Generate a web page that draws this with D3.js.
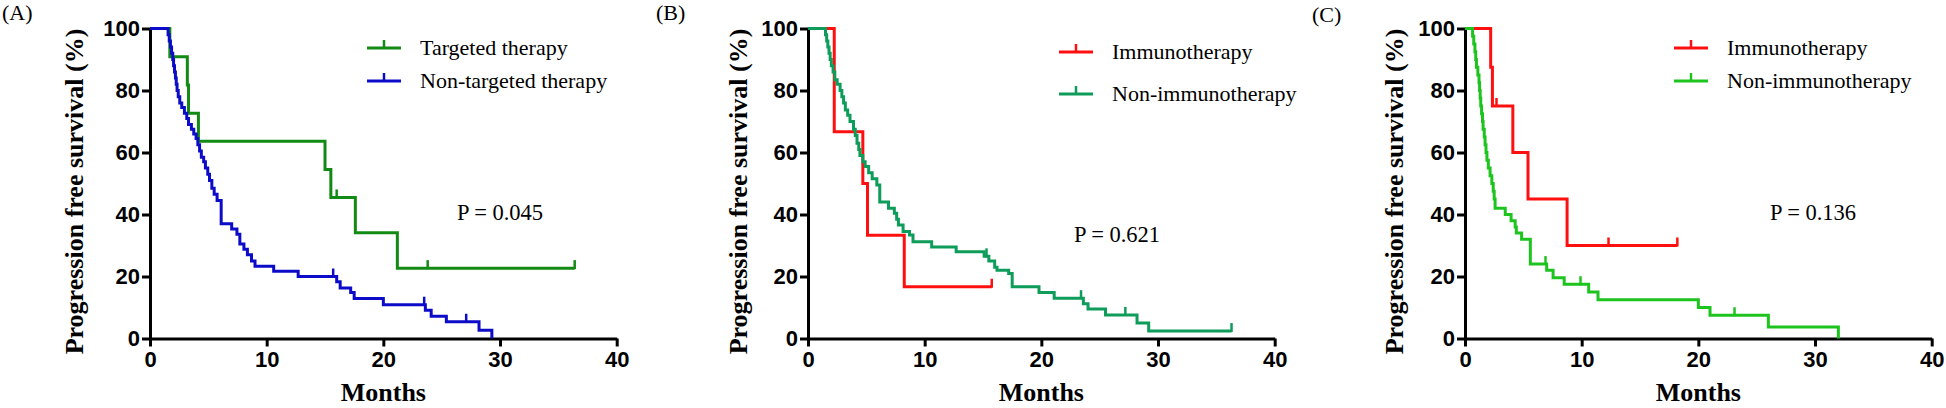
<!DOCTYPE html>
<html><head><meta charset="utf-8">
<script src="https://cdn.jsdelivr.net/npm/d3@7"></script>
<style>body{margin:0;background:#fff}svg{display:block}</style>
</head><body>
<svg id="chart" width="1946" height="408"></svg>
<script>
// ---------- DATA ----------
const xTicks = [0, 10, 20, 30, 40];
const yTicks = [0, 20, 40, 60, 80, 100];

// Panel A
const targetedT = [0, 1.7, 3.2, 3.3, 4.15, 15.0, 15.5, 17.6, 21.2];
const targetedS = [100, 90.9, 81.8, 72.7, 63.6, 54.5, 45.5, 34.1, 22.7];
const targetedEnd = 36.4;
const targetedCensor = [16.0, 23.8, 36.4];

const nonTargetedT = [0,1.55,1.65,1.75,1.85,1.95,2.02,2.1,2.18,2.25,2.32,2.42,2.55,2.72,2.95,3.15,3.3,3.55,3.75,3.95,4.1,4.25,4.4,4.6,4.75,4.95,5.1,5.3,5.5,5.75,6.1,7.0,7.45,7.7,8.05,8.35,8.7,9.0,10.6,12.7,16.0,16.3,17.2,17.5,20.0,23.6,24.1,25.4,28.2,29.3];
const nonTargetedS = [100,98,96,94,92,90,88,86,84,82,80,78,76,74.5,72.7,71,69,67.5,66,64.5,62.5,60.5,58.5,57,55,53,51,48.5,46.5,44.5,37,35.3,33.6,30.5,28.8,27,25,23.3,21.7,20,18.3,16.3,14.8,12.9,10.9,9.1,7.2,5.4,2.7,0];
const nonTargetedEnd = 29.3;
const nonTargetedCensor = [15.7, 23.5, 27.1];

// Panel B
const immBT = [0, 2.25, 4.7, 5.1, 8.25];
const immBS = [100, 66.7, 50, 33.3, 16.7];
const immBEnd = 15.75;
const immBCensor = [15.75];

const nonImmBT = [0,1.5,1.6,1.7,1.8,1.9,2.0,2.15,2.3,2.5,2.75,2.9,3.05,3.2,3.4,3.6,3.9,4.05,4.2,4.35,4.45,4.7,4.9,5.2,5.5,5.9,6.15,6.9,7.4,7.6,7.75,8.15,8.7,9.0,10.6,12.7,15.1,15.5,16.0,16.2,17.2,17.5,19.8,21.1,23.6,24.0,25.5,28.2,29.2];
const nonImmBS = [100,98,96,94,92,90,88,86,83.5,82,80,78,76,73.7,72,70,67.5,65.5,63,61,59,57,55.5,53.5,51.5,49.5,44,42,40.4,38.5,36.6,34.5,33.4,31.2,29.5,28,26.5,25,23,22,21,16.7,14.8,13,11.2,9.5,7.6,5,2.4];
const nonImmBEnd = 36.3;
const nonImmBCensor = [15.3, 23.4, 27.2, 36.3];

// Panel C
const immCT = [0, 2.2, 2.35, 4.1, 5.4, 8.75];
const immCS = [100, 87.5, 75, 60, 45, 30];
const immCEnd = 18.2;
const immCCensor = [2.7, 12.3, 18.2];

const nonImmCT = [0,0.65,0.75,0.85,0.92,0.98,1.1,1.2,1.25,1.3,1.35,1.42,1.5,1.55,1.65,1.72,1.8,1.88,2.0,2.15,2.3,2.42,2.5,2.58,3.45,3.95,4.3,4.4,4.85,5.6,7.0,7.55,8.5,10.6,11.4,20.0,21.0,26.0,32.0];
const nonImmCS = [100,97.5,95,92.5,90,87.5,85,82.5,80,77.5,75,72.5,70,67.5,65,62.5,60,57.5,55,52.5,50,47.5,45,42,40,38,36,34,32,24,22,19.6,17.5,15,12.5,10,7.5,3.75,0];
const nonImmCEnd = 32.0;
const nonImmCCensor = [6.9, 9.9, 23.1];

const panelLabels = ["(A)", "(B)", "(C)"];
const pValues = ["P = 0.045", "P = 0.621", "P = 0.136"];
const yTitle = "Progression free survival (%)";
const xTitle = "Months";

// ---------- LAYOUT / STYLE ----------
const SERIF = "'Liberation Serif','Times New Roman',serif";
const SANS = "'Liberation Sans',Arial,sans-serif";
const panels = [
  { x0: 150, label: panelLabels[0], labelX: 2, labelY: 20, ylabX: 74, p: pValues[0], pX: 500, pY: 220,
    legX: 367, legY: [48, 81],
    series: [
      { name: "Targeted therapy", t: targetedT, s: targetedS, end: targetedEnd, censor: targetedCensor, color: "#138a13" },
      { name: "Non-targeted therapy", t: nonTargetedT, s: nonTargetedS, end: nonTargetedEnd, censor: nonTargetedCensor, color: "#0c0cc8" }
    ] },
  { x0: 808, label: panelLabels[1], labelX: 656, labelY: 20, ylabX: 738, p: pValues[1], pX: 1117, pY: 242,
    legX: 1059, legY: [52, 94],
    series: [
      { name: "Immunotherapy", t: immBT, s: immBS, end: immBEnd, censor: immBCensor, color: "#ff1010" },
      { name: "Non-immunotherapy", t: nonImmBT, s: nonImmBS, end: nonImmBEnd, censor: nonImmBCensor, color: "#0e9c5a" }
    ] },
  { x0: 1465, label: panelLabels[2], labelX: 1312, labelY: 22, ylabX: 1394, p: pValues[2], pX: 1813, pY: 220,
    legX: 1674, legY: [48, 81],
    series: [
      { name: "Immunotherapy", t: immCT, s: immCS, end: immCEnd, censor: immCCensor, color: "#ff1010" },
      { name: "Non-immunotherapy", t: nonImmCT, s: nonImmCS, end: nonImmCEnd, censor: nonImmCCensor, color: "#1ec41e" }
    ] }
];

const svg = d3.select("#chart");
const PW = 466.7, YB = 338.5, YT = 28.5;

function stepValue(s, t) {
  const i = Math.max(0, d3.bisectRight(s.t, t) - 1);
  return s.s[i];
}

panels.forEach(p => {
  const x = d3.scaleLinear().domain([0, 40]).range([p.x0, p.x0 + PW]);
  const y = d3.scaleLinear().domain([0, 100]).range([YB, YT]);
  const g = svg.append("g");

  // axes
  const ax = g.append("g").attr("transform", `translate(0,${YB})`)
    .call(d3.axisBottom(x).tickValues(xTicks).tickSize(8).tickSizeOuter(0).tickPadding(5));
  const ay = g.append("g").attr("transform", `translate(${p.x0},0)`)
    .call(d3.axisLeft(y).tickValues(yTicks).tickSize(8).tickSizeOuter(0).tickPadding(2));
  [ax, ay].forEach(a => {
    a.select(".domain").attr("stroke", "#000").attr("stroke-width", 3);
    a.selectAll(".tick line").attr("stroke", "#000").attr("stroke-width", 3);
    a.selectAll(".tick text").attr("fill", "#000").style("font-family", SANS)
      .style("font-weight", "bold").style("font-size", "22px");
  });

  // curves
  p.series.forEach(s => {
    const pts = s.t.map((t, i) => [t, s.s[i]]);
    pts.push([s.end, s.s[s.s.length - 1]]);
    g.append("path")
      .attr("d", d3.line().x(d => x(d[0])).y(d => y(d[1])).curve(d3.curveStepAfter)(pts))
      .attr("fill", "none").attr("stroke", s.color).attr("stroke-width", 3)
      .attr("stroke-linejoin", "miter");
    s.censor.forEach(c => {
      const v = stepValue(s, c);
      g.append("line").attr("x1", x(c)).attr("x2", x(c))
        .attr("y1", y(v) + 1).attr("y2", y(v) - 8)
        .attr("stroke", s.color).attr("stroke-width", 2.5);
    });
  });

  // legend
  p.series.forEach((s, i) => {
    const ly = p.legY[i];
    g.append("line").attr("x1", p.legX).attr("x2", p.legX + 34).attr("y1", ly).attr("y2", ly)
      .attr("stroke", s.color).attr("stroke-width", 3);
    g.append("line").attr("x1", p.legX + 17).attr("x2", p.legX + 17).attr("y1", ly).attr("y2", ly - 8)
      .attr("stroke", s.color).attr("stroke-width", 2.5);
    g.append("text").attr("x", p.legX + 53).attr("y", ly + 7)
      .style("font-family", SERIF).style("font-size", "22px").attr("fill", "#000").text(s.name);
  });

  // p value
  g.append("text").attr("x", p.pX).attr("y", p.pY).attr("text-anchor", "middle")
    .style("font-family", SERIF).style("font-size", "22.5px").attr("fill", "#000").text(p.p);

  // panel label
  g.append("text").attr("x", p.labelX).attr("y", p.labelY)
    .style("font-family", SERIF).style("font-size", "22px").attr("fill", "#000").text(p.label);

  // axis titles
  g.append("text").attr("transform", `translate(${p.ylabX + 9},${(YB + YT) / 2 + 8}) rotate(-90)`)
    .attr("text-anchor", "middle").style("font-family", SERIF).style("font-weight", "bold")
    .style("font-size", "26px").attr("fill", "#000").text(yTitle);
  g.append("text").attr("x", p.x0 + PW / 2).attr("y", 401).attr("text-anchor", "middle")
    .style("font-family", SERIF).style("font-weight", "bold").style("font-size", "26px")
    .attr("fill", "#000").text(xTitle);
});
</script>
</body></html>
